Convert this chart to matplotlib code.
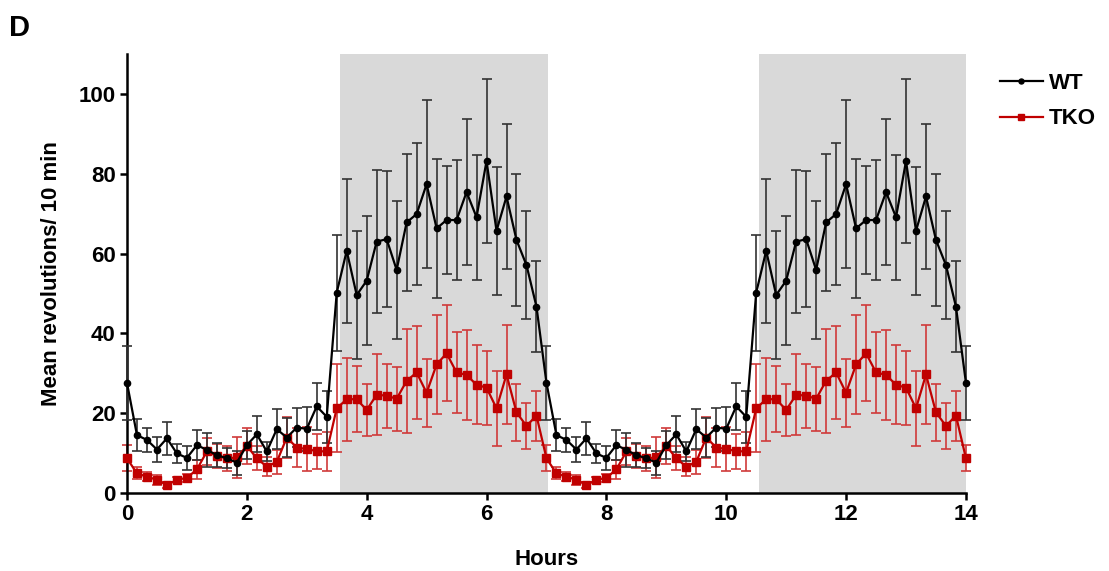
import numpy as np
import matplotlib
matplotlib.use("Agg")
import matplotlib.pyplot as plt

plt.rcParams['font.family'] = ['Liberation Sans', 'DejaVu Sans']
plt.rcParams['font.weight'] = 'bold'

# One 7-hour cycle sampled every 10 minutes (42 bins); the recording covers two cycles.
wt_cycle = [27.6, 14.5, 13.3, 10.9, 13.7, 9.9, 8.8, 12.0, 10.8, 9.5, 8.7, 7.6, 12.0, 14.7,
            10.4, 16.0, 13.9, 16.4, 16.1, 21.7, 19.1, 50.2, 60.7, 49.6, 53.2, 63.0, 63.6,
            55.9, 67.8, 69.9, 77.4, 66.3, 68.4, 68.4, 75.4, 69.1, 83.2, 65.7, 74.3, 63.4,
            57.1, 46.7]
wt_sem_cycle = [9.2, 4.0, 3.0, 3.1, 4.1, 2.4, 3.0, 3.7, 4.3, 3.0, 2.5, 3.0, 3.5, 4.5,
                2.5, 5.0, 5.0, 4.9, 5.5, 5.9, 6.5, 14.5, 18.0, 16.1, 16.2, 17.9, 17.1,
                17.2, 17.2, 17.7, 21.0, 17.4, 13.5, 15.1, 18.2, 15.7, 20.6, 16.0, 18.2,
                16.6, 13.6, 11.4]
tko_cycle = [8.7, 4.9, 4.1, 3.3, 2.0, 3.3, 3.8, 5.9, 10.4, 9.3, 8.7, 8.9, 11.8, 8.7,
             6.6, 7.8, 13.9, 11.4, 11.0, 10.5, 10.4, 21.2, 23.5, 23.5, 20.8, 24.6, 24.4,
             23.6, 28.1, 30.2, 25.1, 32.2, 35.0, 30.2, 29.6, 27.1, 26.4, 21.2, 29.7, 20.2,
             16.8, 19.4]
tko_sem_cycle = [3.3, 1.5, 1.2, 1.25, 0.7, 0.65, 1.05, 2.45, 3.45, 3.1, 3.15, 5.2, 4.6,
                 3.0, 2.3, 2.95, 5.1, 4.9, 5.45, 4.4, 5.0, 11.0, 10.45, 8.25, 6.55, 10.15,
                 8.05, 8.05, 13.05, 11.55, 8.45, 12.45, 12.0, 10.1, 11.2, 9.9, 9.3, 9.3,
                 12.45, 7.1, 5.75, 6.25]

# Dark phases (hours)
dark_periods = [(3.55, 7.02), (10.55, 14.0)]
x_ticks = [0, 2, 4, 6, 8, 10, 12, 14]
y_ticks = [0, 20, 40, 60, 80, 100]

def two_cycles(seq):
    return np.array(list(seq) + list(seq) + [seq[0]])

wt = two_cycles(wt_cycle)
wt_sem = two_cycles(wt_sem_cycle)
tko = two_cycles(tko_cycle)
tko_sem = two_cycles(tko_sem_cycle)
hours = np.arange(len(wt)) / 6.0

fig = plt.figure(figsize=(11.09, 5.71), dpi=100)
ax = fig.add_axes([0.1145, 0.1366, 0.7565, 0.7688])

for start, end in dark_periods:
    ax.axvspan(start, end, color='#d9d9d9', lw=0, zorder=0)

red = '#c00000'
ax.errorbar(hours, tko, yerr=tko_sem, fmt='none', ecolor='#d03a3a', elinewidth=1.2,
            capsize=3.5, capthick=1.2, zorder=2, clip_on=False)
ax.errorbar(hours, wt, yerr=wt_sem, fmt='none', ecolor='#333333', elinewidth=1.2,
            capsize=3.5, capthick=1.2, zorder=3, clip_on=False)
l_tko, = ax.plot(hours, tko, color=red, lw=1.6, marker='s', ms=5.5, zorder=4,
                 clip_on=False, label='TKO')
l_wt, = ax.plot(hours, wt, color='black', lw=1.6, marker='o', ms=4.5, zorder=5,
                clip_on=False, label='WT')

ax.set_xlim(0, 14)
ax.set_ylim(0, 110)
ax.set_xticks(x_ticks)
ax.set_yticks(y_ticks)
ax.spines['top'].set_visible(False)
ax.spines['right'].set_visible(False)
for s in ('left', 'bottom'):
    ax.spines[s].set_linewidth(1.8)
ax.tick_params(axis='both', length=5, width=1.8, labelsize=16, pad=3)
for lab in ax.get_xticklabels() + ax.get_yticklabels():
    lab.set_fontweight('bold')

ax.set_xlabel('Hours', fontsize=16, fontweight='bold', labelpad=17)
ax.set_ylabel('Mean revolutions/ 10 min', fontsize=16, fontweight='bold', labelpad=12)

fig.legend(handles=[l_wt, l_tko], loc='upper left', bbox_to_anchor=(0.896, 0.884),
           frameon=False, prop={'weight': 'bold', 'size': 16},
           handlelength=1.9, handletextpad=0.3, labelspacing=0.65, markerscale=0.8,
           borderaxespad=0.0, borderpad=0.3)

fig.text(0.008, 0.975, 'D', fontsize=21, fontweight='bold', va='top', ha='left')

fig.savefig('out.png', dpi=100)
